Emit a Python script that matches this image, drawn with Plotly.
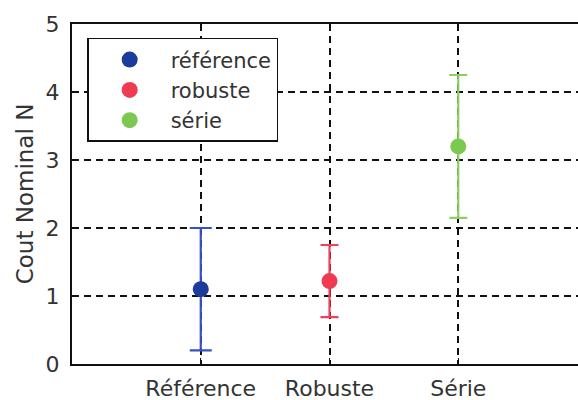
import plotly.graph_objects as go

# --- DONNEES ---
categories = ["Référence", "Robuste", "Série"]
noms_legende = ["référence", "robuste", "série"]
positions = [1, 2, 3]
cout_moyen = [1.1, 1.22, 3.2]
erreur_haut = [0.9, 0.53, 1.05]
erreur_bas = [0.9, 0.53, 1.05]

couleurs_marqueur = ["#1c3c9c", "#f03a52", "#7cc850"]
couleurs_barre = ["#3452c8", "#f0405a", "#8ad060"]
largeur_cap = [11, 9, 9]

police = "DejaVu Sans, sans-serif"

fig = go.Figure()

for i in range(len(categories)):
    fig.add_trace(go.Scatter(
        x=[positions[i]],
        y=[cout_moyen[i]],
        mode="markers",
        name=noms_legende[i],
        marker=dict(size=16, color=couleurs_marqueur[i]),
        error_y=dict(type="data", symmetric=False,
                     array=[erreur_haut[i]], arrayminus=[erreur_bas[i]],
                     color=couleurs_barre[i], thickness=2.2,
                     width=largeur_cap[i]),
    ))

fig.update_layout(
    width=578, height=400,
    paper_bgcolor="white", plot_bgcolor="white",
    margin=dict(l=72, r=0, t=24, b=36),
    font=dict(family=police, size=22, color="#333333"),
    showlegend=True,
    legend=dict(x=0.03, y=0.959, xanchor="left", yanchor="top",
                bgcolor="white", bordercolor="#111111", borderwidth=1.5,
                itemwidth=72, font=dict(size=21, color="#333333")),
    xaxis=dict(range=[0, 3.93], tickvals=positions, ticktext=categories,
               showgrid=True, gridcolor="#111111", gridwidth=2,
               griddash="7px,5px", zeroline=False,
               showline=True, linecolor="#111111", linewidth=2, mirror="ticks",
               ticks="inside", ticklen=6, tickcolor="#111111",
               ticklabelstandoff=4,
               tickfont=dict(size=22)),
    yaxis=dict(range=[0, 5], dtick=1, tickvals=[0, 1, 2, 3, 4, 5],
               showgrid=True, gridcolor="#111111", gridwidth=2,
               griddash="7px,5px", zeroline=False,
               showline=True, linecolor="#111111", linewidth=2,
               ticks="inside", ticklen=6, tickcolor="#111111",
               ticklabelstandoff=6,
               tickfont=dict(size=22),
               title=dict(text="Cout Nominal N", font=dict(size=23), standoff=6)),
)

# la page a une marge de 8px par defaut : on la supprime
fig.write_html("out.html", config={"displayModeBar": False},
               post_script="document.body.style.margin='0';")
